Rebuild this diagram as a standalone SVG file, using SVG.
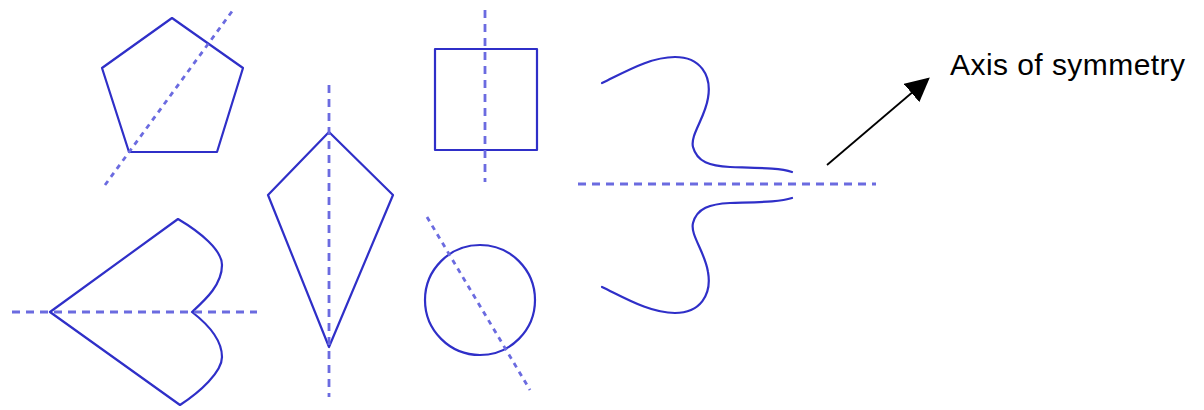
<svg xmlns="http://www.w3.org/2000/svg" width="1204" height="410" viewBox="0 0 1204 410">
<defs>
<style>
.shape{fill:none;stroke:#2f2fc8;stroke-width:2.2;stroke-linejoin:round;stroke-linecap:round}
.axis{fill:none;stroke:#6b6be0;stroke-width:2.8;stroke-dasharray:8 6}
.axis-s{fill:none;stroke:#6b6be0;stroke-width:2.8;stroke-dasharray:5 5}
.label{font-family:"Liberation Sans",Arial,sans-serif;font-size:30px;fill:#000}
</style>
<marker id="ah" viewBox="0 0 10 10" refX="9" refY="5" markerWidth="24" markerHeight="24" markerUnits="userSpaceOnUse" orient="auto">
<path d="M0,0 L10,5 L0,10 z" fill="#000"/>
</marker>
</defs>
<g id="pentagon">
<polygon class="shape" points="172,18 243,68 217,152 129,152 102,68"/>
<line class="axis-s" x1="105" y1="185" x2="233" y2="10"/>
</g>
<g id="heart">
<path class="shape" d="M50,312 L178,219 C200,232 222,250 222,265 C222,285 205,300 192,312 C205,322 222,338 222,357 C222,372 200,392 180,405 Z"/>
<line class="axis" x1="12" y1="312" x2="257" y2="312"/>
</g>
<g id="kite">
<polygon class="shape" points="329,132 393,195 329,347 268,195"/>
<line class="axis" x1="329" y1="85" x2="329" y2="397"/>
</g>
<g id="square">
<rect class="shape" x="435" y="49" width="102" height="101" stroke-linejoin="miter"/>
<line class="axis" x1="485" y1="10" x2="485" y2="182"/>
</g>
<g id="circle">
<circle class="shape" cx="480" cy="300" r="55"/>
<line class="axis-s" x1="427" y1="217" x2="530" y2="390"/>
</g>
<g id="curves">
<path class="shape" d="M602,83 C625,72 650,57 675,57 C700,57 712,75 708,98 C705,118 690,135 693,147 C697,162 710,166 730,167 C760,168 780,168 792,172"/>
<path class="shape" d="M602,287 C625,298 650,313 675,313 C700,313 712,295 708,272 C705,252 690,235 693,223 C697,208 710,204 730,203 C760,202 780,202 792,198"/>
<line class="axis" x1="578" y1="184" x2="876" y2="184"/>
</g>
<g id="connectors">
<line x1="827" y1="165" x2="928" y2="79" stroke="#000" stroke-width="1.8" marker-end="url(#ah)"/>
</g>
<g id="label">
<text class="label" x="950" y="75" textLength="235" lengthAdjust="spacing">Axis of symmetry</text>
</g>
</svg>
